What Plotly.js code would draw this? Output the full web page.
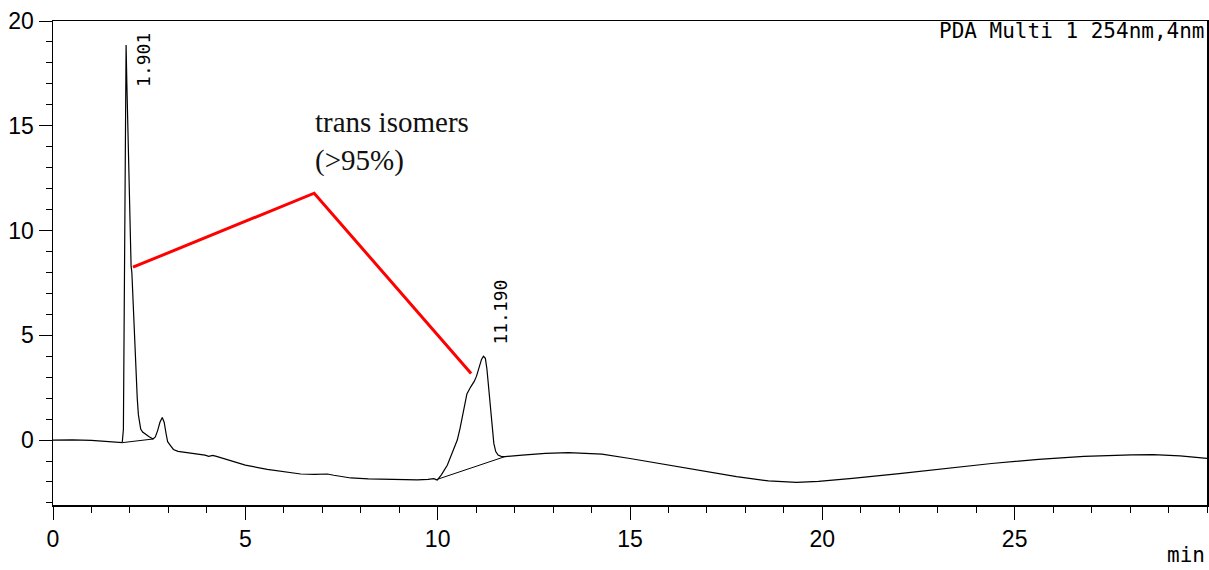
<!DOCTYPE html>
<html>
<head>
<meta charset="utf-8">
<script src="https://cdn.plot.ly/plotly-3.0.1.min.js"></script>
<style>html,body{margin:0;padding:0;background:#fff;}#chart{width:1209px;height:570px;}</style>
</head>
<body>
<div id="chart"></div>
<script>
// Chromatogram (PDA Multi 1, 254nm)
const time = [0,0.5,1.0,1.4,1.8,1.83,1.86,1.885,1.90,1.92,1.96,2.00,2.03,2.05,2.10,2.15,2.19,2.22,2.25,2.28,2.33,2.40,2.50,2.60,2.66,2.72,2.78,2.84,2.89,2.94,2.98,3.05,3.13,3.25,3.40,3.60,3.83,3.95,4.05,4.15,4.25,4.50,4.70,5.00,5.57,6.00,6.44,6.8,7.13,7.3,7.74,8.2,8.60,9.0,9.47,9.75,9.90,9.99,10.10,10.25,10.34,10.43,10.51,10.58,10.64,10.70,10.76,10.86,10.95,11.01,11.08,11.14,11.19,11.24,11.28,11.32,11.36,11.41,11.46,11.51,11.57,11.65,11.75,12.2,12.8,13.4,13.9,14.27,15.0,15.95,16.8,17.77,18.6,19.33,19.9,20.78,22.0,23.2,24.4,25.62,26.8,28.04,28.6,29.3,30.0];
const signal = [0.00,0.01,-0.02,-0.06,-0.12,0.5,9.0,17.5,18.85,17.0,13.5,10.2,8.3,8.0,5.6,3.3,2.0,1.2,0.75,0.52,0.38,0.27,0.16,0.05,0.15,0.45,0.85,1.08,0.85,0.3,-0.08,-0.25,-0.45,-0.54,-0.58,-0.62,-0.66,-0.72,-0.78,-0.73,-0.78,-0.93,-1.04,-1.20,-1.40,-1.52,-1.62,-1.64,-1.62,-1.68,-1.81,-1.85,-1.87,-1.89,-1.90,-1.88,-1.84,-1.91,-1.65,-1.20,-0.80,-0.40,0.00,0.55,1.11,1.75,2.20,2.54,2.80,3.05,3.45,3.85,4.00,3.90,3.40,2.6,1.75,0.7,-0.16,-0.55,-0.72,-0.78,-0.79,-0.72,-0.64,-0.60,-0.62,-0.67,-0.88,-1.19,-1.45,-1.75,-1.95,-2.02,-1.97,-1.83,-1.60,-1.35,-1.12,-0.92,-0.78,-0.71,-0.70,-0.76,-0.87];

// integration baselines
const base1Time = [1.82, 2.60];
const base1Signal = [-0.12, 0.05];
const base2Time = [9.95, 11.75];
const base2Signal = [-1.90, -0.79];

// peak retention time labels
const peakTimes = [2.37, 11.63];
const peakLabelY = [18.15, 6.1];
const peakLabels = ["1.901", "11.190"];

// red annotation pointer
const pointerX = [2.08, 6.79, 10.87];
const pointerY = [8.25, 11.78, 3.18];

const xTicks = [0, 5, 10, 15, 20, 25];
const yTicks = [0, 5, 10, 15, 20];

const traces = [
  {x: time, y: signal, type: 'scatter', mode: 'lines', line: {color: '#000', width: 1.2}, hoverinfo: 'skip'},
  {x: base1Time, y: base1Signal, type: 'scatter', mode: 'lines', line: {color: '#000', width: 1}, hoverinfo: 'skip'},
  {x: base2Time, y: base2Signal, type: 'scatter', mode: 'lines', line: {color: '#000', width: 1}, hoverinfo: 'skip'},
  {x: pointerX, y: pointerY, type: 'scatter', mode: 'lines', line: {color: '#ff0000', width: 3}, hoverinfo: 'skip'}
];

const annotations = peakLabels.map((t, i) => ({
  x: peakTimes[i], y: peakLabelY[i], xref: 'x', yref: 'y', text: t, showarrow: false,
  textangle: -90, font: {family: 'DejaVu Sans Mono, monospace', size: 18, color: '#000'},
  xanchor: 'center', yanchor: 'middle'
}));
annotations.push({
  x: 6.77, y: 16.05, xref: 'x', yref: 'y', text: 'trans isomers<br>(>95%)', showarrow: false,
  align: 'left', xanchor: 'left', yanchor: 'top',
  font: {family: 'Liberation Serif, Times New Roman, serif', size: 29, color: '#111'}
});
annotations.push({
  x: 1, y: 0.979, xref: 'paper', yref: 'paper', text: 'PDA Multi 1 254nm,4nm', showarrow: false,
  xanchor: 'right', yanchor: 'middle', font: {family: 'DejaVu Sans Mono, monospace', size: 21, color: '#000'}
});
annotations.push({
  x: 1, y: -0.104, xref: 'paper', yref: 'paper', text: 'min', showarrow: false,
  xanchor: 'right', yanchor: 'middle', font: {family: 'DejaVu Sans Mono, monospace', size: 21, color: '#000'}
});

const axisFont = {family: 'Liberation Sans, Arial, sans-serif', size: 23, color: '#000'};

const layout = {
  width: 1209, height: 570,
  margin: {l: 53, r: 2, t: 21, b: 65},
  paper_bgcolor: '#fff', plot_bgcolor: '#fff',
  showlegend: false,
  xaxis: {
    range: [0, 30], tickmode: 'array', tickvals: xTicks, ticktext: xTicks.map(String),
    ticks: 'outside', ticklen: 13, tickwidth: 1, tickcolor: '#000',
    minor: {dtick: 1, tick0: 0, ticks: 'outside', ticklen: 6, tickcolor: '#000', tickwidth: 1},
    showline: true, linecolor: '#000', linewidth: 1.5, mirror: true,
    showgrid: false, zeroline: false, tickfont: axisFont
  },
  yaxis: {
    range: [-3.1, 20], tickmode: 'array', tickvals: yTicks, ticktext: yTicks.map(String),
    ticks: 'outside', ticklen: 13, tickwidth: 1, tickcolor: '#000',
    minor: {dtick: 1, tick0: 0, ticks: 'outside', ticklen: 6, tickcolor: '#000', tickwidth: 1},
    showline: true, linecolor: '#000', linewidth: 1.5, mirror: true,
    showgrid: false, zeroline: false, tickfont: axisFont
  },
  annotations: annotations
};

Plotly.newPlot('chart', traces, layout, {displayModeBar: false, staticPlot: true});
</script>
</body>
</html>
